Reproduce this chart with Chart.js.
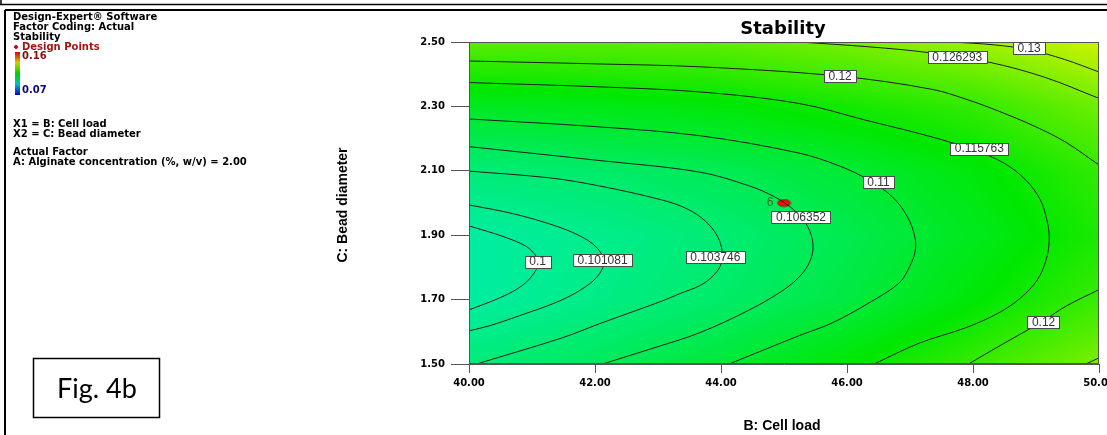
<!DOCTYPE html>
<html><head><meta charset="utf-8">
<script src="https://cdn.jsdelivr.net/npm/chart.js@4"></script>
<style>html,body{margin:0;padding:0;background:#fff;}#wrap{width:1107px;height:435px;position:relative;}</style>
</head><body><div id="wrap"><canvas id="c" width="1107" height="435"></canvas></div>
<script>
// ---- axis ticks ----
const xTicks = [40, 42, 44, 46, 48, 50];
const yTicks = [1.5, 1.7, 1.9, 2.1, 2.3, 2.5];

// ---- response surface samples (Stability) ----
const gridX = [40, 42, 44, 46, 48, 50];
const gridY = [1.5, 1.7, 1.9, 2.1, 2.3, 2.5];
const stabilityGrid = [
  [0.1037, 0.1063, 0.1097, 0.1148, 0.1201, 0.1268],
  [0.0998, 0.1024, 0.1052, 0.1088, 0.1145, 0.1203],
  [0.0998, 0.1017, 0.1042, 0.1075, 0.1122, 0.1175],
  [0.1038, 0.1052, 0.1071, 0.1100, 0.1140, 0.1197],
  [0.1118, 0.1129, 0.1143, 0.1168, 0.1197, 0.1255],
  [0.1235, 0.1235, 0.1240, 0.1265, 0.1300, 0.1345]
];
const colorMin = 0.07, colorMax = 0.16;

// ---- contour lines [x, y] ----
const contour0100 = [[40.00,1.929],[40.54,1.896],[40.91,1.865],[41.07,1.834],[41.10,1.818],[41.05,1.787],[40.86,1.746],[40.54,1.710],[40.00,1.668]];
const contour0101 = [[40.00,1.994],[40.65,1.969],[41.28,1.935],[41.76,1.898],[42.03,1.861],[42.14,1.820],[42.07,1.780],[41.85,1.740],[41.44,1.696],[40.80,1.650],[40.33,1.619],[40.00,1.603]];
const contour0104 = [[40.00,2.099],[41.28,2.078],[42.07,2.053],[43.07,2.009],[43.47,1.981],[43.75,1.944],[43.94,1.898],[44.02,1.848],[43.99,1.805],[43.86,1.771],[43.66,1.743],[43.34,1.718],[43.07,1.696],[42.07,1.625],[41.49,1.582],[40.12,1.500]];
const contour0106 = [[40.00,2.175],[42.02,2.133],[43.66,2.096],[44.45,2.053],[44.85,2.019],[45.16,1.978],[45.37,1.929],[45.46,1.873],[45.42,1.823],[45.26,1.774],[44.97,1.727],[44.45,1.668],[43.66,1.597],[42.87,1.546],[42.12,1.500]];
const contour0110 = [[40.00,2.261],[42.02,2.237],[43.66,2.209],[45.24,2.155],[45.88,2.115],[46.35,2.071],[46.72,2.019],[46.96,1.957],[47.08,1.892],[47.08,1.848],[47.00,1.805],[46.83,1.752],[46.35,1.690],[45.77,1.628],[45.24,1.588],[44.72,1.547],[44.13,1.500]];
const contour0116 = [[40.00,2.374],[42.02,2.361],[43.66,2.345],[45.24,2.309],[46.30,2.257],[47.35,2.205],[48.02,2.164],[48.49,2.124],[48.84,2.071],[49.07,2.009],[49.18,1.941],[49.21,1.885],[49.16,1.823],[49.02,1.761],[48.76,1.706],[48.41,1.659],[47.89,1.613],[47.15,1.565],[46.43,1.500]];
const contour0120a = [[40.00,2.441],[42.02,2.432],[43.66,2.423],[45.88,2.394],[47.35,2.353],[47.94,2.319],[48.41,2.285],[48.97,2.239],[49.47,2.189],[50.00,2.118]];
const contour0120b = [[50.00,1.731],[49.47,1.679],[49.10,1.632],[48.41,1.555],[47.93,1.500]];
const contour0126a = [[45.24,2.500],[46.35,2.485],[47.30,2.467],[48.26,2.437],[49.13,2.391],[50.00,2.325]];
const contour0126b = [[50.00,1.519],[49.79,1.500]];
const contour0130 = [[47.67,2.500],[48.34,2.491],[48.89,2.476],[49.45,2.446],[50.00,2.407]];

// ---- contour labels ----
const contourLabelText = ['0.1','0.101081','0.103746','0.106352','0.11','0.115763','0.12','0.126293','0.13','0.12'];
const contourLabelX = [41.09, 42.12, 43.91, 45.27, 46.50, 48.10, 45.89, 47.75, 48.89, 49.12];
const contourLabelY = [1.818, 1.822, 1.833, 1.957, 2.064, 2.169, 2.395, 2.454, 2.480, 1.631];

// ---- design points ----
const designX = [45.0];
const designY = [2.0];
const designCount = ['6'];

const contours = [contour0100, contour0101, contour0104, contour0106, contour0110, contour0116,
                  contour0120a, contour0120b, contour0126a, contour0126b, contour0130];

function interpGrid(xv, yv){
  let i = 0; while (i < gridX.length - 2 && xv > gridX[i+1]) i++;
  let j = 0; while (j < gridY.length - 2 && yv > gridY[j+1]) j++;
  const tx = Math.min(1, Math.max(0, (xv - gridX[i]) / (gridX[i+1] - gridX[i])));
  const ty = Math.min(1, Math.max(0, (yv - gridY[j]) / (gridY[j+1] - gridY[j])));
  const a = stabilityGrid[j][i], b = stabilityGrid[j][i+1], c = stabilityGrid[j+1][i], d = stabilityGrid[j+1][i+1];
  return (a*(1-tx) + b*tx)*(1-ty) + (c*(1-tx) + d*tx)*ty;
}
const cmapStops = [[0,[0,0,255]],[0.25,[0,240,240]],[0.5,[0,232,0]],[0.75,[235,245,0]],[1,[255,0,0]]];
function cmap(v){
  let t = (v - colorMin) / (colorMax - colorMin); t = Math.min(1, Math.max(0, t));
  for (let k = 0; k < cmapStops.length - 1; k++){
    const [t0,c0] = cmapStops[k], [t1,c1] = cmapStops[k+1];
    if (t <= t1){ const f = (t - t0)/(t1 - t0); return [0,1,2].map(q => Math.round(c0[q] + (c1[q]-c0[q])*f)); }
  }
  return cmapStops[cmapStops.length-1][1];
}

const fieldPlugin = {
  id: 'field',
  beforeDraw(chart){
    const {ctx, chartArea: ca, scales} = chart;
    const w = Math.round(ca.right - ca.left), h = Math.round(ca.bottom - ca.top);
    const off = document.createElement('canvas'); off.width = w; off.height = h;
    const octx = off.getContext('2d'); const img = octx.createImageData(w, h);
    for (let j = 0; j < h; j++){
      const yv = scales.y.getValueForPixel(ca.top + j + 0.5);
      for (let i = 0; i < w; i++){
        const xv = scales.x.getValueForPixel(ca.left + i + 0.5);
        const c = cmap(interpGrid(xv, yv));
        const p = (j*w + i)*4; img.data[p] = c[0]; img.data[p+1] = c[1]; img.data[p+2] = c[2]; img.data[p+3] = 255;
      }
    }
    octx.putImageData(img, 0, 0);
    ctx.drawImage(off, ca.left, ca.top);
  }
};

const overlayPlugin = {
  id: 'overlay',
  afterDraw(chart){
    const {ctx, chartArea: ca, scales} = chart;
    ctx.save();
    // plot frame
    ctx.strokeStyle = '#555'; ctx.lineWidth = 1;
    ctx.strokeRect(Math.round(ca.left)+0.5, Math.round(ca.top)+0.5, Math.round(ca.right-ca.left)-1, Math.round(ca.bottom-ca.top)-1);
    // contour labels
    ctx.font = '12px "Liberation Sans", Arial, sans-serif';
    ctx.textAlign = 'center'; ctx.textBaseline = 'middle';
    contourLabelText.forEach((t, k) => {
      const px = scales.x.getPixelForValue(contourLabelX[k]);
      const py = scales.y.getPixelForValue(contourLabelY[k]);
      const tw = ctx.measureText(t).width + 9;
      const bx = Math.round(px - tw/2) + 0.5, by = Math.round(py - 6) + 0.5;
      ctx.fillStyle = '#fff'; ctx.fillRect(bx, by, Math.round(tw), 12);
      ctx.strokeStyle = '#4a4a4a'; ctx.lineWidth = 1; ctx.strokeRect(bx, by, Math.round(tw), 12);
      ctx.fillStyle = '#333'; ctx.fillText(t, px, py + 0.5);
    });
    // design point count labels
    const meta = chart.getDatasetMeta(contours.length);
    ctx.font = '12px "Liberation Sans", Arial, sans-serif';
    ctx.fillStyle = '#2a6e2a'; ctx.textAlign = 'center';
    meta.data.forEach((el, k) => { ctx.fillText(designCount[k], el.x - 14, el.y - 0.5); });
    // title + axis titles
    ctx.fillStyle = '#000';
    ctx.font = 'bold 18px "DejaVu Sans", sans-serif';
    ctx.textAlign = 'center'; ctx.textBaseline = 'alphabetic';
    ctx.fillText('Stability', (ca.left + ca.right)/2 - 1, 34);
    ctx.font = 'bold 14px "Liberation Sans", Arial, sans-serif';
    ctx.textBaseline = 'middle';
    ctx.fillText('B: Cell load', 782, 426);
    ctx.save(); ctx.translate(343, 205); ctx.rotate(-Math.PI/2);
    ctx.fillText('C: Bead diameter', 0, 0); ctx.restore();
    // left info block
    ctx.textAlign = 'left';
    ctx.font = 'bold 10px "DejaVu Sans", sans-serif';
    const info = [['Design-Expert\u00ae Software',17],['Factor Coding: Actual',27],['Stability',37]];
    info.forEach(([t,y]) => ctx.fillText(t, 13, y));
    ctx.fillStyle = '#a31515';
    ctx.beginPath(); ctx.moveTo(16,44.5); ctx.lineTo(18.5,47); ctx.lineTo(16,49.5); ctx.lineTo(13.5,47); ctx.closePath(); ctx.fill();
    ctx.fillText('Design Points', 22, 47);
    ctx.fillStyle = '#8b0a0a'; ctx.fillText('0.16', 22, 56);
    ctx.fillStyle = '#0a0a80'; ctx.fillText('0.07', 22, 90);
    const g = ctx.createLinearGradient(0, 52, 0, 95);
    g.addColorStop(0, '#e00000'); g.addColorStop(0.25, '#d0d000'); g.addColorStop(0.5, '#00d000');
    g.addColorStop(0.75, '#00c0c0'); g.addColorStop(1, '#0000d0');
    ctx.fillStyle = g; ctx.fillRect(15, 52, 5, 43);
    ctx.fillStyle = '#000';
    [['X1 = B: Cell load',124],['X2 = C: Bead diameter',134],['Actual Factor',152],['A: Alginate concentration (%, w/v) = 2.00',162]]
      .forEach(([t,y]) => ctx.fillText(t, 13, y));
    // Fig box
    ctx.strokeStyle = '#000'; ctx.lineWidth = 1.5;
    ctx.strokeRect(33.5, 358.5, 126, 59);
    ctx.font = '27px Lato, "Open Sans", sans-serif'; ctx.textAlign = 'center';
    ctx.fillText('Fig. 4b', 97, 389);
    // page borders
    ctx.lineWidth = 1.5; ctx.beginPath();
    ctx.moveTo(0, 4.5); ctx.lineTo(1107, 4.5); ctx.moveTo(1, 0); ctx.lineTo(1, 5); ctx.stroke();
    ctx.lineWidth = 2; ctx.beginPath();
    ctx.moveTo(5, 10); ctx.lineTo(1107, 10); ctx.moveTo(5, 10); ctx.lineTo(5, 435); ctx.stroke();
    ctx.restore();
  }
};

const ellipse = document.createElement('canvas'); ellipse.width = 15; ellipse.height = 9;
(function(){ const e = ellipse.getContext('2d'); e.beginPath(); e.ellipse(7.5, 4.5, 6.5, 3.3, 0, 0, Math.PI*2);
  e.fillStyle = '#ff0a0a'; e.fill(); e.strokeStyle = '#b00000'; e.lineWidth = 1; e.stroke(); })();

const datasets = contours.map(c => ({
  data: c.map(p => ({x: p[0], y: p[1]})), showLine: true, borderColor: '#1e1e1e', borderWidth: 1,
  pointRadius: 0, tension: 0.35, fill: false
}));
datasets.push({ data: designX.map((x, k) => ({x, y: designY[k]})), showLine: false, pointStyle: ellipse, pointRadius: 7 });

new Chart(document.getElementById('c'), {
  type: 'scatter',
  data: { datasets },
  options: {
    responsive: false, animation: false, events: [],
    layout: { padding: { left: 335, right: 7, top: 42, bottom: 0 } },
    plugins: { legend: { display: false }, tooltip: { enabled: false }, title: { display: false } },
    scales: {
      x: {
        type: 'linear', min: 40, max: 50,
        afterBuildTicks: s => { s.ticks = xTicks.map(v => ({ value: v })); },
        afterFit: s => { s.height = 71; s.paddingLeft = 0; s.paddingRight = 0; },
        ticks: { callback: v => Number(v).toFixed(2), font: { family: 'DejaVu Sans', weight: 'bold', size: 10 }, color: '#000', padding: 4, maxRotation: 0, autoSkip: false },
        grid: { drawOnChartArea: false, tickLength: 9, color: '#555' },
        border: { display: true, color: '#555' }
      },
      y: {
        type: 'linear', min: 1.5, max: 2.5,
        afterBuildTicks: s => { s.ticks = yTicks.map(v => ({ value: v })); },
        afterFit: s => { s.width = 134; s.paddingTop = 0; s.paddingBottom = 0; },
        ticks: { callback: v => Number(v).toFixed(2), font: { family: 'DejaVu Sans', weight: 'bold', size: 10 }, color: '#000', padding: 6, autoSkip: false },
        grid: { drawOnChartArea: false, tickLength: 18, color: '#555' },
        border: { display: true, color: '#555' }
      }
    }
  },
  plugins: [fieldPlugin, overlayPlugin]
});
</script></body></html>
